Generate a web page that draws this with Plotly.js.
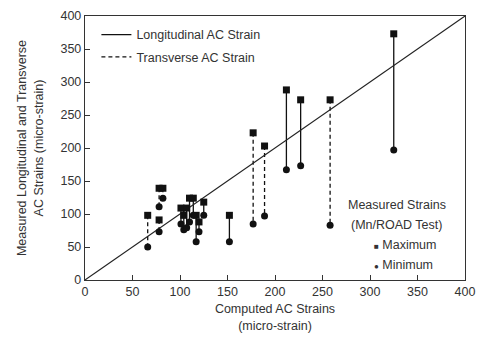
<!DOCTYPE html>
<html>
<head>
<meta charset="utf-8">
<script src="https://cdn.plot.ly/plotly-3.0.1.min.js"></script>
<style>html,body{margin:0;padding:0;background:#fff;}#chart{width:477px;height:346px;}</style>
</head>
<body>
<div id="chart"></div>
<script>
// Longitudinal AC strain pairs (solid lines)
const longComputed = [101, 104, 107, 110, 114, 117, 120, 125, 152, 212, 227, 325];
const longMax      = [109, 98, 109, 124, 124, 98, 88, 118, 98, 288, 273, 373];
const longMin      = [85, 76, 79, 88, 98, 58, 73, 98, 58, 167, 173, 197];
// Transverse AC strain pairs (dashed lines)
const transComputed = [66, 78, 82, 78, 177, 189, 258];
const transMax      = [98, 139, 139, 91, 223, 203, 273];
const transMin      = [50, 111, 124, 73, 85, 97, 83];
// Equality line
const eqLine = [0, 400];
const tickVals = [0, 50, 100, 150, 200, 250, 300, 350, 400];

function seg(xs, a, b) {
  const X = [], Y = [];
  xs.forEach((x, i) => { X.push(x, x, null); Y.push(a[i], b[i], null); });
  return {X, Y};
}
const ls = seg(longComputed, longMax, longMin);
const ts = seg(transComputed, transMax, transMin);
const allX = longComputed.concat(transComputed);
const allMax = longMax.concat(transMax);
const allMin = longMin.concat(transMin);

const traces = [
  {x: ls.X, y: ls.Y, mode: 'lines', name: 'Longitudinal AC Strain',
   line: {color: '#111', width: 1.3}, legendgroup: 'a', connectgaps: false},
  {x: ts.X, y: ts.Y, mode: 'lines', name: 'Transverse AC Strain',
   line: {color: '#111', width: 1.3, dash: '4px,3px'}, legendgroup: 'b', connectgaps: false},
  {x: eqLine, y: eqLine, mode: 'lines', showlegend: false, line: {color: '#222', width: 1.1}},
  {x: allX, y: allMax, mode: 'markers', showlegend: false, name: 'Maximum',
   marker: {symbol: 'square', size: 7, color: '#111'}},
  {x: allX, y: allMin, mode: 'markers', showlegend: false, name: 'Minimum',
   marker: {symbol: 'circle', size: 7, color: '#111'}}
];

const font = {family: 'Liberation Sans, Arial, sans-serif', size: 12.5, color: '#333'};
const layout = {
  width: 477, height: 346,
  margin: {l: 85, r: 12, t: 16, b: 66},
  paper_bgcolor: '#fff', plot_bgcolor: '#fff',
  font: font,
  showlegend: true,
  legend: {x: 0.03, y: 0.985, xanchor: 'left', yanchor: 'top', bgcolor: 'rgba(0,0,0,0)',
           font: font, tracegroupgap: 3, traceorder: 'grouped'},
  xaxis: {range: [0, 400], tickvals: tickVals, ticks: 'inside', ticklen: 5, tickcolor: '#333',
          showline: true, linecolor: '#333', linewidth: 1.2, mirror: true, showgrid: false, zeroline: false,
          tickfont: font,
          title: {text: 'Computed AC Strains<br>(micro-strain)', font: font, standoff: 6}},
  yaxis: {range: [0, 400], tickvals: tickVals, ticks: 'inside', ticklen: 5, tickcolor: '#333',
          showline: true, linecolor: '#333', linewidth: 1.2, mirror: true, showgrid: false, zeroline: false,
          tickfont: font,
          title: {text: 'Measured Longitudinal and Transverse<br>AC Strains (micro-strain)', font: font, standoff: 14}},
  annotations: [
    {xref: 'paper', yref: 'paper', x: 0.82, y: 0.285, text: 'Measured Strains', showarrow: false,
     xanchor: 'center', yanchor: 'middle', font: font},
    {xref: 'paper', yref: 'paper', x: 0.82, y: 0.21, text: '(Mn/ROAD Test)', showarrow: false,
     xanchor: 'center', yanchor: 'middle', font: font},
    {xref: 'paper', yref: 'paper', x: 0.755, y: 0.133, text: "<span style='font-size:8px'>■</span> Maximum", showarrow: false,
     xanchor: 'left', yanchor: 'middle', font: font},
    {xref: 'paper', yref: 'paper', x: 0.755, y: 0.057, text: "<span style='font-size:8px'>●</span> Minimum", showarrow: false,
     xanchor: 'left', yanchor: 'middle', font: font}
  ]
};
Plotly.newPlot('chart', traces, layout, {staticPlot: true, displayModeBar: false});
</script>
</body>
</html>
